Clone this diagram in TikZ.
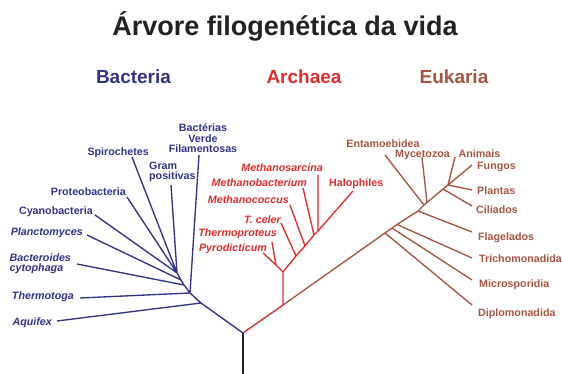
\documentclass[tikz,border=0pt]{standalone}
\usepackage{fontspec}
\setmainfont{Liberation Sans}
\usetikzlibrary{positioning, calc}
\definecolor{bactcol}{RGB}{51,51,136}
\definecolor{archcol}{RGB}{221,45,45}
\definecolor{eukcol}{RGB}{166,85,68}
\definecolor{trunkcol}{RGB}{34,34,34}
\tikzset{
x=1pt, y=-1pt, % one unit per pixel, y runs downwards
branch/.style={line width=1.35pt}, % sets the width of every branch of the tree
taxon/.style={inner sep=0pt, font=\fontsize{10.7}{10.5}\selectfont\bfseries}, % upright leaf label
species/.style={inner sep=0pt, font=\fontsize{10.7}{10.5}\selectfont\bfseries\itshape}, % italic leaf label
domainname/.style={inner sep=0pt, anchor=base, font=\fontsize{19}{19}\selectfont\bfseries}, % name of a domain
}

\begin{document}
\begin{tikzpicture}
        \useasboundingbox (0,0) rectangle (562,374);
        \node[inner sep=0pt, anchor=base, text=trunkcol, font=\fontsize{27}{27}\selectfont\bfseries] (title) at (285,36) {Árvore filogenética da vida};
        \node[domainname, text=bactcol] (bacteria) at (133.5,84) {Bacteria};
        \node[domainname, text=archcol] (archaea) at (304,84) {Archaea};
        \node[domainname, text=eukcol] (eukaria) at (454,84) {Eukaria};

        % junctions
        \coordinate (root) at (243,374);
        \coordinate (base) at (243,333);
        \coordinate (b1) at (201,303);
        \coordinate (b2) at (190,293);
        \coordinate (b3) at (184,285);
        \coordinate (b4) at (181,280);
        \coordinate (b5) at (177,273);
        \coordinate (a1) at (283,305);
        \coordinate (a2) at (283,272);
        \coordinate (a3) at (276,265);
        \coordinate (a4) at (296,256);
        \coordinate (a5) at (305,246);
        \coordinate (a6) at (314,235);
        \coordinate (a7) at (318,231);
        \coordinate (e1) at (385,233);
        \coordinate (e2) at (392,228);
        \coordinate (e3) at (397,224.5);
        \coordinate (e4) at (418,211);
        \coordinate (e5) at (424,205);
        \coordinate (e6) at (427,202.5);
        \coordinate (e7) at (443,189);
        \coordinate (e8) at (448,185);

        % leaf ends
        \coordinate (tAqu) at (57,321);
        \coordinate (tThe) at (80,298);
        \coordinate (tBac) at (77,264);
        \coordinate (tPla) at (87,235);
        \coordinate (tCya) at (95,215);
        \coordinate (tPro) at (127,197);
        \coordinate (tSpi) at (132,157);
        \coordinate (tGra) at (171,185);
        \coordinate (tVer) at (199,155);
        \coordinate (tPyr) at (263,253);
        \coordinate (tThp) at (272,242);
        \coordinate (tTce) at (281,223);
        \coordinate (tMco) at (290,205);
        \coordinate (tMba) at (303,188);
        \coordinate (tMsa) at (318,175);
        \coordinate (tHal) at (353,191);
        \coordinate (tDip) at (472,305);
        \coordinate (tMic) at (472,280);
        \coordinate (tTri) at (472,258);
        \coordinate (tFla) at (472,232);
        \coordinate (tEnt) at (385,155);
        \coordinate (tMyc) at (422,157);
        \coordinate (tCil) at (472,206);
        \coordinate (tPlt) at (472,190);
        \coordinate (tAni) at (455,157);
        \coordinate (tFun) at (472,165);

        % Bacteria
        \node[taxon, text=bactcol, align=center, anchor=south] (lVer) at (203,153) {Bactérias\\Verde\\Filamentosas};
        \node[taxon, text=bactcol, align=left, anchor=north west] (lGra) at (149,161.5) {Gram\\positivas};
        \node[taxon, text=bactcol, anchor=mid east] (lSpi) at (149,153) {Spirochetes};
        \node[taxon, text=bactcol, anchor=mid east] (lPro) at (126,193) {Proteobacteria};
        \node[taxon, text=bactcol, anchor=mid east] (lCya) at (93,212) {Cyanobacteria};
        \node[species, text=bactcol, anchor=mid east] (lPla) at (83,233) {Planctomyces};
        \node[species, text=bactcol, align=left, anchor=north west] (lBac) at (9.5,253.3) {Bacteroides\\cytophaga};
        \node[species, text=bactcol, anchor=mid east] (lThe) at (74,297) {Thermotoga};
        \node[species, text=bactcol, anchor=mid east] (lAqu) at (52,323) {Aquifex};

        % Archaea
        \node[species, text=archcol, anchor=mid east] (lMsa) at (323,169) {Methanosarcina};
        \node[species, text=archcol, anchor=mid east] (lMba) at (307,184) {Methanobacterium};
        \node[species, text=archcol, anchor=mid east] (lMco) at (289,201) {Methanococcus};
        \node[species, text=archcol, anchor=mid east] (lTce) at (281,221) {T. celer};
        \node[species, text=archcol, anchor=mid east] (lThp) at (277,234) {Thermoproteus};
        \node[species, text=archcol, anchor=mid east] (lPyr) at (267,249) {Pyrodicticum};
        \node[taxon, text=archcol, anchor=mid west] (lHal) at (329,184) {Halophiles};

        % Eukaria
        \node[taxon, text=eukcol, anchor=mid] (lEnt) at (383,145) {Entamoebidea};
        \node[taxon, text=eukcol, anchor=mid] (lMyc) at (422.5,155) {Mycetozoa};
        \node[taxon, text=eukcol, anchor=mid] (lAni) at (479.5,155) {Animais};
        \node[taxon, text=eukcol, anchor=mid west] (lFun) at (477,167) {Fungos};
        \node[taxon, text=eukcol, anchor=mid west] (lPlt) at (477,192) {Plantas};
        \node[taxon, text=eukcol, anchor=mid west] (lCil) at (476,211) {Ciliados};
        \node[taxon, text=eukcol, anchor=mid west] (lFla) at (478,238) {Flagelados};
        \node[taxon, text=eukcol, anchor=mid west] (lTri) at (479,260) {Trichomonadida};
        \node[taxon, text=eukcol, anchor=mid west] (lMic) at (479,285) {Microsporidia};
        \node[taxon, text=eukcol, anchor=mid west] (lDip) at (478,314) {Diplomonadida};

        \draw[branch, trunkcol] (root) -- (base);
        \draw[branch, bactcol] (base) -- (b1) -- (b2) -- (b3) -- (b4) -- (b5)
            (b1) -- (tAqu)
            (b2) -- (tThe)
            (b2) -- (tVer)
            (b3) -- (tBac)
            (b4) -- (tPla)
            (b5) -- (tCya)
            (b5) -- (tPro)
            (b5) -- (tSpi)
            (b5) -- (tGra);
        \draw[branch, archcol] (base) -- (a1) -- (a2) -- (a4) -- (a5) -- (a6) -- (a7) -- (tHal)
            (a2) -- (a3) -- (tPyr)
            (a3) -- (tThp)
            (a4) -- (tTce)
            (a5) -- (tMco)
            (a6) -- (tMba)
            (a7) -- (tMsa);
        \draw[branch, eukcol] (a1) -- (e1) -- (e2) -- (e3) -- (e4) -- (e5) -- (e6) -- (e7) -- (e8) -- (tFun)
            (e1) -- (tDip)
            (e2) -- (tMic)
            (e3) -- (tTri)
            (e4) -- (tFla)
            (e5) -- (tEnt)
            (e6) -- (tMyc)
            (e7) -- (tCil)
            (e8) -- (tPlt)
            (e8) -- (tAni);
\end{tikzpicture}
\end{document}
